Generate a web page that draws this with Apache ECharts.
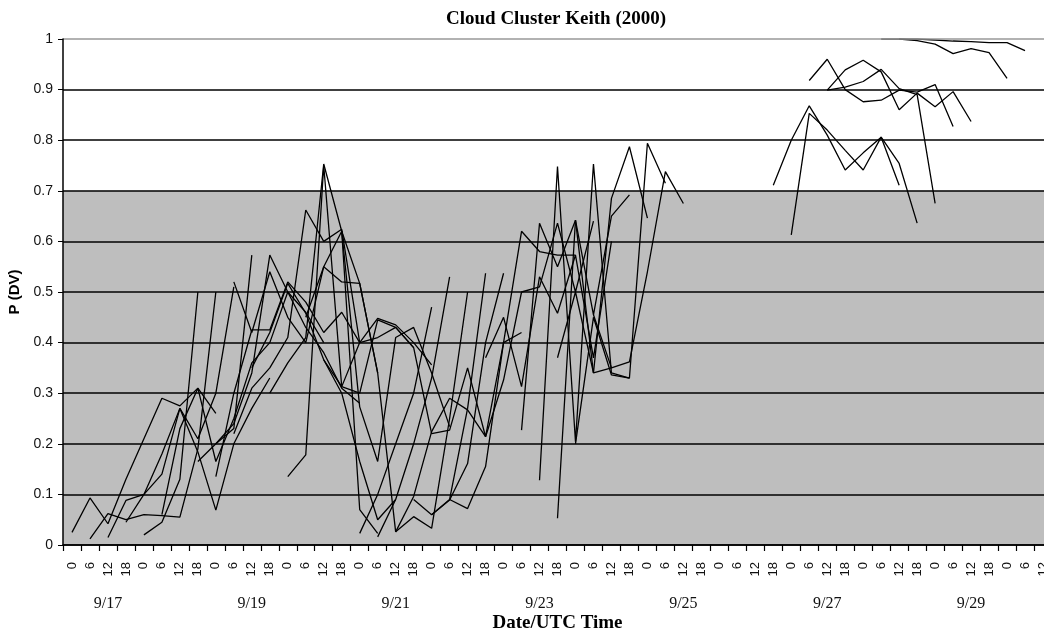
<!DOCTYPE html>
<html>
<head>
<meta charset="utf-8">
<script src="https://cdn.jsdelivr.net/npm/echarts@6/dist/echarts.min.js"></script>
<style>
html,body{margin:0;padding:0;background:#fff;}
#chart{width:1044px;height:635px;}
</style>
</head>
<body>
<div id="chart"></div>
<script>
// ---- tick labels ----
const hourLabels = ['0', '6', '12', '18'];
const dayLabels = ['9/17','9/18','9/19','9/20','9/21','9/22','9/23','9/24','9/25','9/26','9/27','9/28','9/29','9/30'];
const yTicks = [0, 0.1, 0.2, 0.3, 0.4, 0.5, 0.6, 0.7, 0.8, 0.9, 1];
const categoryCount = 55;

// ---- forecast runs: first category index of each run, and its P(DV) values every 6 h ----
const runStarts = [
  0, 1, 2, 3, 4, 5, 7, 8, 8, 9,
  9, 10, 11, 12, 13, 14, 15, 16, 17, 18,
  19, 20, 18, 21, 22, 23, 25, 26, 27, 27,
  28, 29,
  39, 40, 41, 42, 42, 45, 46
];
const runValues = [
  [0.025, 0.093, 0.042, 0.13, 0.21, 0.29, 0.275, 0.31, 0.26],
  [0.012, 0.062, 0.05, 0.06, 0.058, 0.055, 0.19, 0.5],
  [0.015, 0.088, 0.1, 0.14, 0.27, 0.21, 0.3, 0.51],
  [0.045, 0.1, 0.18, 0.27, 0.184, 0.069, 0.2, 0.27, 0.33],
  [0.02, 0.045, 0.13, 0.5],
  [0.06, 0.23, 0.31, 0.165, 0.25, 0.36, 0.4, 0.5, 0.46, 0.4],
  [0.165, 0.2, 0.23, 0.573],
  [0.135, 0.3, 0.425, 0.425, 0.52, 0.48, 0.42, 0.46, 0.4],
  [0.2, 0.24, 0.34, 0.573, 0.5, 0.43, 0.38, 0.31, 0.28],
  [0.22, 0.31, 0.35, 0.41, 0.662, 0.6, 0.624, 0.4, 0.41, 0.43],
  [0.52, 0.42, 0.54, 0.45, 0.4, 0.55, 0.52, 0.517, 0.34],
  [0.35, 0.42, 0.517, 0.458, 0.366, 0.3, 0.165, 0.05, 0.09],
  [0.3, 0.36, 0.41, 0.753, 0.62, 0.07, 0.023],
  [0.135, 0.178, 0.75, 0.313, 0.3, 0.445, 0.43, 0.39],
  [0.45, 0.55, 0.62, 0.273, 0.165, 0.41, 0.43, 0.34, 0.234],
  [0.366, 0.313, 0.4, 0.448, 0.435, 0.4, 0.356],
  [0.62, 0.517, 0.34, 0.026, 0.096, 0.224, 0.29, 0.267],
  [0.023, 0.1, 0.2, 0.3, 0.47],
  [0.016, 0.09, 0.2, 0.33, 0.53],
  [0.026, 0.056, 0.033, 0.25, 0.5],
  [0.09, 0.06, 0.09, 0.27, 0.537],
  [0.06, 0.089, 0.161, 0.4, 0.537],
  [0.43, 0.39, 0.22, 0.227, 0.35, 0.214, 0.4, 0.42],
  [0.09, 0.072, 0.155, 0.4, 0.62, 0.58, 0.573, 0.573],
  [0.267, 0.214, 0.326, 0.5, 0.51, 0.636, 0.5, 0.64],
  [0.37, 0.45, 0.313, 0.53, 0.458, 0.573, 0.37, 0.6],
  [0.227, 0.636, 0.55, 0.642, 0.34, 0.35],
  [0.128, 0.748, 0.204, 0.753, 0.34, 0.33],
  [0.053, 0.642, 0.455, 0.65, 0.692],
  [0.37, 0.5, 0.34, 0.685, 0.787, 0.646],
  [0.2, 0.45, 0.336, 0.33, 0.794, 0.715],
  [0.455, 0.35, 0.362, 0.54, 0.738, 0.675],
  [0.711, 0.80, 0.868, 0.81, 0.741, 0.775, 0.806, 0.711],
  [0.613, 0.853, 0.82, 0.78, 0.741, 0.806, 0.754, 0.636],
  [0.918, 0.96, 0.90, 0.876, 0.879, 0.899, 0.895, 0.91, 0.827],
  [0.899, 0.939, 0.958, 0.935, 0.86, 0.893, 0.866, 0.896, 0.837],
  [0.899, 0.905, 0.916, 0.94, 0.902, 0.89, 0.675],
  [1.0, 1.0, 0.997, 0.99, 0.971, 0.981, 0.973, 0.922],
  [1.0, 1.0, 0.998, 0.996, 0.995, 0.993, 0.993, 0.977]
];

// ---- build categories ----
const categories = [];
for (let d = 0; d < dayLabels.length; d++) {
  for (let h = 0; h < hourLabels.length; h++) {
    if (categories.length < categoryCount) categories.push(d + '|' + h);
  }
}

const series = runValues.map((vals, k) => {
  const data = new Array(categoryCount).fill(null);
  vals.forEach((v, j) => { data[runStarts[k] + j] = v; });
  const s = {
    type: 'line',
    data: data,
    symbol: 'none',
    showSymbol: false,
    connectNulls: false,
    silent: true,
    animation: false,
    lineStyle: { color: '#000', width: 1.3 },
    z: 4
  };
  if (k === 0) {
    s.markArea = {
      silent: true,
      itemStyle: { color: '#bebebe' },
      data: [[{ yAxis: 0 }, { yAxis: 0.7 }]]
    };
  }
  return s;
});

const chart = echarts.init(document.getElementById('chart'), null, { renderer: 'canvas' });
chart.setOption({
  backgroundColor: '#fff',
  animation: false,
  title: {
    text: 'Cloud Cluster Keith (2000)',
    left: 441,
    top: 5,
    textStyle: { fontFamily: 'Liberation Serif', fontWeight: 'bold', fontSize: 19, color: '#000' }
  },
  grid: { left: 63, top: 39, width: 989, height: 506, containLabel: false, outerBoundsMode: 'none' },
  xAxis: [
    {
      type: 'category',
      data: categories,
      boundaryGap: true,
      z: 6,
      axisLine: { show: true, lineStyle: { color: '#000', width: 1.5 } },
      axisTick: { show: true, length: 6, interval: 0, lineStyle: { color: '#000', width: 1.2 } },
      axisLabel: {
        interval: 0,
        rotate: 90,
        margin: 17,
        fontFamily: 'Liberation Sans',
        fontSize: 13,
        color: '#111',
        formatter: (v) => hourLabels[+v.split('|')[1]]
      },
      splitLine: { show: false },
      name: 'Date/UTC Time',
      nameLocation: 'middle',
      nameGap: 69,
      nameTextStyle: { fontFamily: 'Liberation Serif', fontWeight: 'bold', fontSize: 19, color: '#000' }
    },
    {
      type: 'category',
      data: categories,
      position: 'bottom',
      boundaryGap: true,
      axisLine: { show: false },
      axisTick: { show: false },
      splitLine: { show: false },
      axisLabel: {
        interval: 0,
        margin: 51,
        fontFamily: 'Liberation Serif',
        fontSize: 16,
        color: '#111',
        formatter: (v) => {
          const p = v.split('|');
          return (p[1] === '2' && (+p[0]) % 2 === 0) ? dayLabels[+p[0]] : '';
        }
      }
    }
  ],
  yAxis: {
    type: 'value',
    min: 0,
    max: 1,
    interval: 0.1,
    z: 6,
    axisLine: { show: true, lineStyle: { color: '#000', width: 1.5 } },
    axisTick: { show: true, length: 5, lineStyle: { color: '#000' } },
    axisLabel: {
      fontFamily: 'Liberation Sans',
      fontSize: 14,
      color: '#111',
      margin: 10,
      formatter: (v) => {
        const r = Math.round(v * 10) / 10;
        return yTicks.indexOf(r) >= 0 ? String(r) : '';
      }
    },
    splitLine: {
      show: true,
      lineStyle: {
        color: ['#000', '#000', '#000', '#000', '#000', '#000', '#000', '#000', '#000', '#000', '#999'],
        width: 1.5
      }
    },
    name: 'P (DV)',
    nameLocation: 'middle',
    nameGap: 36,
    nameTextStyle: { fontFamily: 'Liberation Sans', fontWeight: 'bold', fontSize: 15, color: '#000' }
  },
  series: series
});
</script>
</body>
</html>
